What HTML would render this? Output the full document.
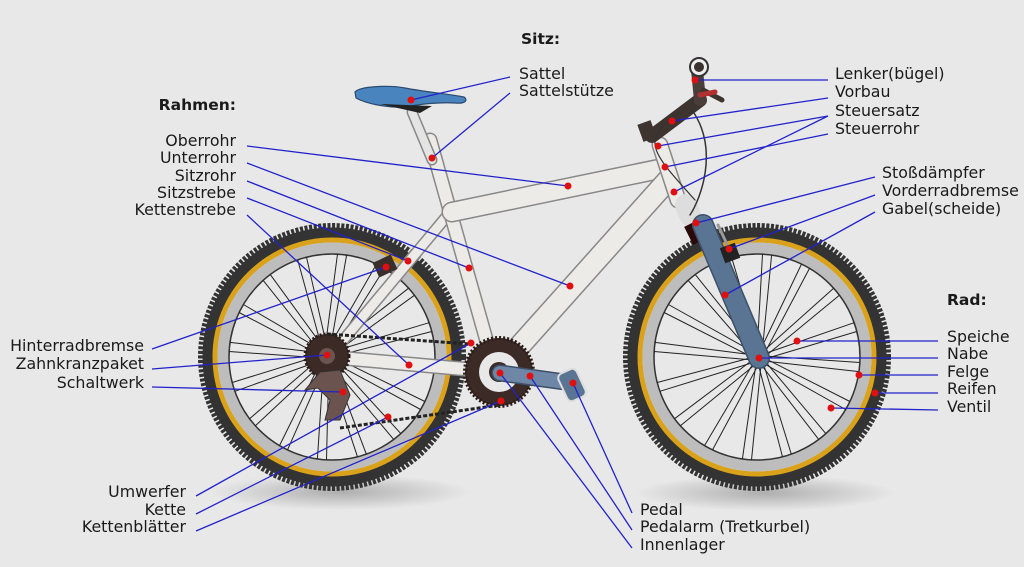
<!DOCTYPE html>
<html><head><meta charset="utf-8"><style>
html,body{margin:0;padding:0;background:#e8e8e8;}
svg{display:block}
text{font-family:"DejaVu Sans","Liberation Sans",sans-serif;font-size:15.8px;fill:#1a1a1a}
.b{font-weight:bold;font-size:15.5px}
</style></head><body>
<svg id="s" width="1024" height="567" viewBox="0 0 1024 567" xmlns="http://www.w3.org/2000/svg">
<rect width="1024" height="567" fill="#e8e8e8"/>
<defs>
<radialGradient id="sh"><stop offset="0" stop-color="#000" stop-opacity=".25"/><stop offset="1" stop-color="#000" stop-opacity="0"/></radialGradient>
</defs>
<ellipse cx="340" cy="492" rx="130" ry="18" fill="url(#sh)"/>
<ellipse cx="765" cy="493" rx="130" ry="18" fill="url(#sh)"/>
<g id="wheels"></g>
<g stroke-linecap="round">
<line x1="330" y1="357" x2="498" y2="372" stroke="#888" stroke-width="15"/>
<line x1="330" y1="357" x2="498" y2="372" stroke="#ecebe8" stroke-width="12"/>
<line x1="335" y1="350" x2="452" y2="210" stroke="#888" stroke-width="12"/>
<line x1="335" y1="350" x2="452" y2="210" stroke="#ecebe8" stroke-width="9"/>
<line x1="430" y1="140" x2="492" y2="360" stroke="#888" stroke-width="15"/>
<line x1="430" y1="140" x2="492" y2="360" stroke="#ecebe8" stroke-width="12"/>
<line x1="412" y1="112" x2="432" y2="160" stroke="#888" stroke-width="11"/>
<line x1="412" y1="112" x2="432" y2="160" stroke="#e4e4e4" stroke-width="8"/>
<line x1="452" y1="212" x2="664" y2="168" stroke="#888" stroke-width="21"/>
<line x1="452" y1="212" x2="664" y2="168" stroke="#ecebe8" stroke-width="18"/>
<line x1="500" y1="368" x2="668" y2="180" stroke="#888" stroke-width="23"/>
<line x1="500" y1="368" x2="668" y2="180" stroke="#ecebe8" stroke-width="20"/>
<line x1="660" y1="145" x2="678" y2="200" stroke="#888" stroke-width="17"/>
<line x1="660" y1="145" x2="678" y2="200" stroke="#ecebe8" stroke-width="14"/>
<line x1="686" y1="205" x2="690" y2="215" stroke="#ddd" stroke-width="22"/>
<line x1="694" y1="222" x2="703" y2="240" stroke="#2a0a08" stroke-width="22" stroke-linecap="butt"/>
<line x1="703" y1="225" x2="759" y2="358" stroke="#3e5068" stroke-width="22"/>
<line x1="703" y1="225" x2="759" y2="358" stroke="#5a7594" stroke-width="19"/>
<line x1="718" y1="225" x2="732" y2="255" stroke="#999" stroke-width="3"/>
<rect x="722" y="245" width="16" height="16" fill="#222" transform="rotate(-20 730 253)"/>
<path d="M652 136 L700 100" stroke="#3d3430" stroke-width="14"/>
<rect x="640" y="122" width="14" height="18" fill="#3d3430" transform="rotate(-20 647 131)"/>
<path d="M700 100 L697 70" stroke="#4a3e3a" stroke-width="12"/>
<circle cx="699" cy="67" r="9" fill="#eee" stroke="#333" stroke-width="2"/>
<circle cx="699" cy="67" r="5" fill="#3a3330"/>
<path d="M703 90 L722 100" stroke="#3d3430" stroke-width="5"/>
<path d="M700 95 L715 92" stroke="#b23030" stroke-width="5"/>
<path d="M692 110 C720 150 700 200 690 215" stroke="#333" stroke-width="1.5" fill="none"/>
<path d="M680 112 C640 140 650 150 695 200" stroke="#333" stroke-width="1.2" fill="none"/>
</g>
<path d="M355 92 C360 86 390 85 405 88 C425 92 450 94 464 97 C468 100 466 104 455 103 C440 102 420 104 405 107 C385 108 365 103 356 98 Z" fill="#4a84bf" stroke="#2a4a70" stroke-width="1.2"/>
<path d="M380 104 L420 113 L432 106 Z" fill="#222"/>
<circle cx="327" cy="356" r="22" fill="#3b2a26" stroke="#2a1c18" stroke-width="3" stroke-dasharray="2 2"/>
<circle cx="327" cy="356" r="8" fill="#6a5550"/>
<path d="M340 370 L350 395 L340 420 L325 420 L330 400 L318 388 L305 390 L320 372 Z" fill="#6b5450" stroke="#333" stroke-width="1"/>
<path d="M327 334 L470 344 M340 428 L500 405" stroke="#222" stroke-width="3" stroke-dasharray="4 2" fill="none"/>
<circle cx="499" cy="372" r="34" fill="#3b2a26" stroke="#2a1c18" stroke-width="4" stroke-dasharray="2 2"/>
<circle cx="499" cy="372" r="20" fill="#e8e8e8"/>
<circle cx="499" cy="372" r="10" fill="#3b2a26"/>
<line x1="500" y1="373" x2="572" y2="383" stroke="#3e5068" stroke-width="17" stroke-linecap="round"/>
<line x1="500" y1="373" x2="572" y2="383" stroke="#6e87a6" stroke-width="14" stroke-linecap="round"/>
<rect x="562" y="370" width="20" height="30" rx="5" fill="#5a7594" stroke="#ddd" stroke-width="2" transform="rotate(-25 572 385)"/>
<rect x="375" y="258" width="20" height="16" fill="#3a2e2a" transform="rotate(-25 385 266)"/>
<g stroke="#2222cc" stroke-width="1.3" fill="none">
<line x1="510" y1="77" x2="411" y2="100"/>
<line x1="510" y1="93" x2="432" y2="158"/>
<line x1="828" y1="80" x2="695" y2="80"/>
<line x1="828" y1="98" x2="672" y2="121"/>
<line x1="828" y1="116" x2="658" y2="146"/>
<line x1="828" y1="116" x2="674" y2="192"/>
<line x1="828" y1="134" x2="665" y2="167"/>
<line x1="875" y1="177" x2="696" y2="223"/>
<line x1="875" y1="195" x2="729" y2="249"/>
<line x1="875" y1="212" x2="725" y2="295"/>
<line x1="938" y1="341" x2="797" y2="341"/>
<line x1="938" y1="358" x2="759" y2="358"/>
<line x1="938" y1="375" x2="859" y2="375"/>
<line x1="938" y1="393" x2="875" y2="393"/>
<line x1="938" y1="410" x2="831" y2="408"/>
<line x1="247" y1="146" x2="568" y2="186"/>
<line x1="247" y1="163" x2="570" y2="286"/>
<line x1="247" y1="181" x2="469" y2="268"/>
<line x1="247" y1="198" x2="408" y2="261"/>
<line x1="247" y1="215" x2="409" y2="365"/>
<line x1="152" y1="349" x2="386" y2="267"/>
<line x1="152" y1="369" x2="327" y2="355"/>
<line x1="152" y1="387" x2="343" y2="392"/>
<line x1="196" y1="496" x2="471" y2="343"/>
<line x1="196" y1="514" x2="388" y2="417"/>
<line x1="196" y1="531" x2="501" y2="401"/>
<line x1="632" y1="513" x2="573" y2="383"/>
<line x1="632" y1="530" x2="530" y2="376"/>
<line x1="632" y1="548" x2="500" y2="373"/>
</g>
<g fill="#e01010">
<circle cx="411" cy="100" r="3.5"/><circle cx="432" cy="158" r="3.5"/><circle cx="695" cy="80" r="3.5"/><circle cx="672" cy="121" r="3.5"/><circle cx="658" cy="146" r="3.5"/><circle cx="674" cy="192" r="3.5"/><circle cx="665" cy="167" r="3.5"/><circle cx="696" cy="223" r="3.5"/><circle cx="729" cy="249" r="3.5"/><circle cx="725" cy="295" r="3.5"/><circle cx="797" cy="341" r="3.5"/><circle cx="759" cy="358" r="3.5"/><circle cx="859" cy="375" r="3.5"/><circle cx="875" cy="393" r="3.5"/><circle cx="831" cy="408" r="3.5"/><circle cx="568" cy="186" r="3.5"/><circle cx="570" cy="286" r="3.5"/><circle cx="469" cy="268" r="3.5"/><circle cx="408" cy="261" r="3.5"/><circle cx="409" cy="365" r="3.5"/><circle cx="386" cy="267" r="3.5"/><circle cx="327" cy="355" r="3.5"/><circle cx="343" cy="392" r="3.5"/><circle cx="471" cy="343" r="3.5"/><circle cx="388" cy="417" r="3.5"/><circle cx="501" cy="401" r="3.5"/><circle cx="573" cy="383" r="3.5"/><circle cx="530" cy="376" r="3.5"/><circle cx="500" cy="373" r="3.5"/>
</g>
<text x="521" y="44" class="b">Sitz:</text>
<text x="519" y="79">Sattel</text>
<text x="519" y="96">Sattelstütze</text>
<text x="236" y="110" class="b" text-anchor="end">Rahmen:</text>
<g text-anchor="end">
<text x="236" y="146">Oberrohr</text>
<text x="236" y="163">Unterrohr</text>
<text x="236" y="181">Sitzrohr</text>
<text x="236" y="198">Sitzstrebe</text>
<text x="236" y="215">Kettenstrebe</text>
<text x="144" y="351">Hinterradbremse</text>
<text x="144" y="369">Zahnkranzpaket</text>
<text x="144" y="388">Schaltwerk</text>
<text x="186" y="497">Umwerfer</text>
<text x="186" y="515">Kette</text>
<text x="186" y="532">Kettenblätter</text>
</g>
<text x="835" y="79">Lenker(bügel)</text>
<text x="835" y="97">Vorbau</text>
<text x="835" y="116">Steuersatz</text>
<text x="835" y="134">Steuerrohr</text>
<text x="882" y="178">Stoßdämpfer</text>
<text x="882" y="196">Vorderradbremse</text>
<text x="882" y="214">Gabel(scheide)</text>
<text x="947" y="305" class="b">Rad:</text>
<text x="947" y="342">Speiche</text>
<text x="947" y="359">Nabe</text>
<text x="947" y="377">Felge</text>
<text x="947" y="394">Reifen</text>
<text x="947" y="412">Ventil</text>
<text x="640" y="515">Pedal</text>
<text x="640" y="532">Pedalarm (Tretkurbel)</text>
<text x="640" y="550">Innenlager</text>
</svg>
<script>
(function(){
var g=document.getElementById('wheels'),h='';
function wheel(cx,cy,hx,hy){
 h+='<circle cx="'+cx+'" cy="'+cy+'" r="128" fill="none" stroke="#333" stroke-width="12" stroke-dasharray="3 1.5"/>';
 h+='<circle cx="'+cx+'" cy="'+cy+'" r="124" fill="none" stroke="#333" stroke-width="11"/>';
 h+='<circle cx="'+cx+'" cy="'+cy+'" r="117" fill="none" stroke="#d9a21a" stroke-width="5"/>';
 h+='<circle cx="'+cx+'" cy="'+cy+'" r="109" fill="none" stroke="#bdbdbd" stroke-width="11"/>';
 h+='<circle cx="'+cx+'" cy="'+cy+'" r="103" fill="none" stroke="#333" stroke-width="1.5"/>';
 for(var i=0;i<32;i++){var a=i*Math.PI*2/32,off=(i%2?0.25:-0.25);
  var x=cx+103*Math.cos(a+off),y=cy+103*Math.sin(a+off);
  var hx2=hx+9*Math.cos(a),hy2=hy+9*Math.sin(a);
  h+='<line x1="'+hx2.toFixed(1)+'" y1="'+hy2.toFixed(1)+'" x2="'+x.toFixed(1)+'" y2="'+y.toFixed(1)+'" stroke="#222" stroke-width="1"/>';}
 h+='<circle cx="'+hx+'" cy="'+hy+'" r="10" fill="#4a3a36"/>';
}
wheel(332,357,327,356);wheel(757,357,759,358);
g.innerHTML=h;
})();
</script>
</body></html>
